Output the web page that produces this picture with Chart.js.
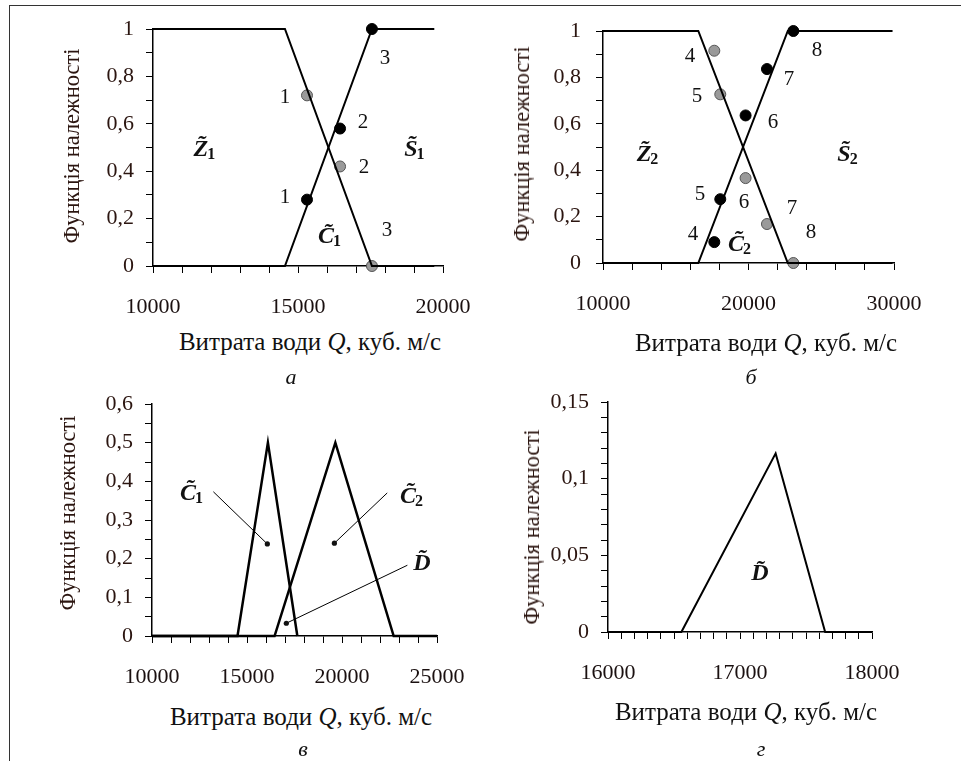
<!DOCTYPE html>
<html>
<head>
<meta charset="utf-8">
<script src="https://cdn.jsdelivr.net/npm/chart.js@4.4.0/dist/chart.umd.min.js"></script>
<style>
  body { margin: 0; background: #fff; }
  #page { position: relative; width: 961px; height: 761px; overflow: hidden; font-family: 'Liberation Serif', serif; color: #111; }
  #frame { position: absolute; left: 9px; top: 5px; right: -2px; bottom: -2px; border-top: 1px solid #333; border-left: 1px solid #333; }
  canvas { position: absolute; }
  .t { position: absolute; white-space: nowrap; transform: translate(-50%, -50%); font-size: 25px; font-family: 'Liberation Serif', serif; }
  .ty { transform: translate(-50%, -50%) rotate(-90deg); color: #2b1510; font-size: 22.5px; }
  .lt { font-style: italic; font-size: 22px; }
</style>
</head>
<body>
<div id="page">
  <div id="frame"></div>
  <canvas id="chartA"></canvas>
  <canvas id="chartB"></canvas>
  <canvas id="chartC"></canvas>
  <canvas id="chartD"></canvas>

  <div class="t ty" style="left:72px; top:146px;">Функція належності</div>
  <div class="t" style="left:310px; top:342px;">Витрата води <i>Q</i>, куб. м/с</div>
  <div class="t lt" style="left:291px; top:377px;">а</div>

  <div class="t ty" style="left:522px; top:144px;">Функція належності</div>
  <div class="t" style="left:766px; top:343px;">Витрата води <i>Q</i>, куб. м/с</div>
  <div class="t lt" style="left:751px; top:377px;">б</div>

  <div class="t ty" style="left:68px; top:513px;">Функція належності</div>
  <div class="t" style="left:301px; top:717px;">Витрата води <i>Q</i>, куб. м/с</div>
  <div class="t lt" style="left:303px; top:749px;">в</div>

  <div class="t ty" style="left:532px; top:527px;">Функція належності</div>
  <div class="t" style="left:746px; top:712px;">Витрата води <i>Q</i>, куб. м/с</div>
  <div class="t lt" style="left:761px; top:749px;">г</div>
</div>

<script>
/* ================================
   Data
================================ */
// panel а
const qA_lines = [10000, 14550, 17550, 19700];
const muA_Z1 = [1, 1, 0, 0];
const muA_S1 = [0, 0, 1, 1];
const qA_pts = [15310, 16450, 17550];
const muA_ptsZ = [0.72, 0.42, 0];
const muA_ptsS = [0.28, 0.58, 1.0];

// panel б
const qB_lines = [10000, 16550, 22700, 29900];
const muB_Z2 = [1, 1, 0, 0];
const muB_S2 = [0, 0, 1, 1];
const qB_pts = [17650, 18060, 19800, 21270, 23080];
const muB_ptsZ = [0.915, 0.727, 0.366, 0.168, 0];
const muB_ptsS = [0.09, 0.275, 0.636, 0.836, 1.0];

// panel в
const qC_C1 = [10000, 14500, 16100, 17650];
const muC_C1 = [0, 0, 0.5, 0];
const qC_C2 = [10000, 16450, 19650, 22720, 25000];
const muC_C2 = [0, 0, 0.5, 0, 0];

// panel г
const qD = [16000, 16556, 17270, 17645, 18000];
const muD = [0, 0, 0.1165, 0, 0];

/* ================================
   Helpers
================================ */
const SERIF = "'Liberation Serif', serif";
Chart.defaults.font.family = SERIF;
Chart.defaults.font.size = 22;
Chart.defaults.color = "#1a1a1a";

function xy(xs, ys) {
    return xs.map(function (x, i) {
        return { x: x, y: ys[i] };
    });
}

function lineSet(xs, ys, w) {
    return {
        data: xy(xs, ys),
        showLine: true,
        borderColor: "#000",
        borderWidth: w || 2,
        pointRadius: 0,
        clip: false,
    };
}

function dotSet(xs, ys, fill, edge) {
    return {
        data: xy(xs, ys),
        showLine: false,
        pointRadius: 5.5,
        pointBackgroundColor: fill,
        pointBorderColor: edge,
        pointBorderWidth: 1,
        clip: false,
    };
}

function decimal(v) {
    return String(v).replace(".", ",");
}

// labels hang outside the plot box, keep the box where it is
function noOverhang(s) {
    s.paddingLeft = 0;
    s.paddingRight = 0;
    s.paddingTop = 0;
    s.paddingBottom = 0;
}

// text labels / leaders in data units, drawn through the scales
const notesPlugin = {
    id: "notes",
    afterDatasetsDraw: function (chart, args, opts) {
        const ctx = chart.ctx;
        const sx = chart.scales.x;
        const sy = chart.scales.y;
        (opts.items || []).forEach(function (it) {
            const px = sx.getPixelForValue(it.x);
            const py = sy.getPixelForValue(it.y);
            ctx.save();
            ctx.fillStyle = "#111";
            ctx.strokeStyle = "#000";
            if (it.kind === "num") {
                ctx.font = "21px " + SERIF;
                ctx.textAlign = "center";
                ctx.textBaseline = "middle";
                ctx.fillText(it.text, px, py);
            } else if (it.kind === "name") {
                ctx.font = "bold italic 24px " + SERIF;
                ctx.textAlign = "left";
                ctx.textBaseline = "alphabetic";
                const w = ctx.measureText(it.text).width;
                ctx.font = "bold 16px " + SERIF;
                const ws = ctx.measureText(it.sub || "").width;
                const x0 = px - (w + ws) / 2;
                ctx.font = "bold italic 24px " + SERIF;
                ctx.fillText(it.text + "\u0303", x0, py + 8);
                if (it.sub) {
                    ctx.font = "bold 16px " + SERIF;
                    ctx.fillText(it.sub, x0 + w - 1, py + 11);
                }
            } else if (it.kind === "leader") {
                const qx = sx.getPixelForValue(it.x2);
                const qy = sy.getPixelForValue(it.y2);
                ctx.lineWidth = 1;
                ctx.beginPath();
                ctx.moveTo(px, py);
                ctx.lineTo(qx, qy);
                ctx.stroke();
                ctx.beginPath();
                ctx.arc(qx, qy, 2.6, 0, Math.PI * 2);
                ctx.fill();
            }
            ctx.restore();
        });
    },
};

/* ================================
   One panel = one chart
================================ */
function makePanel(id, area, xr, yr, datasets, notes) {
    const padL = 150, padT = 22, padR = 40, padB = 60;
    const cv = document.getElementById(id);
    const w = area.right - area.left + padL + padR;
    const h = area.bottom - area.top + padT + padB;
    cv.width = w;
    cv.height = h;
    cv.style.left = (area.left - padL) + "px";
    cv.style.top = (area.top - padT) + "px";
    cv.style.width = w + "px";
    cv.style.height = h + "px";

    new Chart(cv.getContext("2d"), {
        type: "scatter",
        data: { datasets: datasets },
        plugins: [notesPlugin],
        options: {
            responsive: false,
            animation: false,
            events: [],
            layout: { padding: { left: 0, top: padT, right: padR, bottom: 0 } },
            plugins: {
                legend: { display: false },
                tooltip: { enabled: false },
                notes: { items: notes },
            },
            scales: {
                x: {
                    type: "linear",
                    min: xr.min,
                    max: xr.max,
                    afterFit: function (s) {
                        s.height = padB;
                        noOverhang(s);
                    },
                    border: { display: true, color: "#000", width: 1.5 },
                    grid: { drawOnChartArea: false, drawTicks: true, tickLength: 7, color: "#000" },
                    ticks: {
                        stepSize: xr.step,
                        autoSkip: false,
                        maxRotation: 0,
                        padding: 21,
                        color: "#1a1010",
                        font: { family: SERIF, size: 22 },
                        callback: function (v) {
                            return Math.round(v) % xr.label === 0 ? String(Math.round(v)) : "";
                        },
                    },
                },
                y: {
                    type: "linear",
                    min: yr.min,
                    max: yr.max,
                    afterFit: function (s) {
                        s.width = padL;
                        noOverhang(s);
                    },
                    border: { display: true, color: "#000", width: 1.5 },
                    grid: { drawOnChartArea: false, drawTicks: true, tickLength: 7, color: "#000" },
                    ticks: {
                        stepSize: yr.step,
                        autoSkip: false,
                        padding: yr.pad,
                        color: "#2b1510",
                        font: { family: SERIF, size: 22 },
                        callback: function (v) {
                            const n = Math.round(v / yr.step);
                            if (n % yr.every !== 0) {
                                return "";
                            }
                            return decimal(Math.round(v * 1000) / 1000);
                        },
                    },
                },
            },
        },
    });
}

/* ================================
   Panel а
================================ */
makePanel("chartA",
    { left: 153, top: 29, right: 443, bottom: 266 },
    { min: 10000, max: 20000, step: 1000, label: 5000 },
    { min: 0, max: 1, step: 0.1, every: 2, pad: 12 },
    [
        lineSet(qA_lines, muA_Z1),
        lineSet(qA_lines, muA_S1),
        dotSet(qA_pts, muA_ptsZ, "#9a9a9a", "#555"),
        dotSet(qA_pts, muA_ptsS, "#000", "#000"),
    ],
    [
        { kind: "name", text: "Z", sub: "1", x: 11790, y: 0.50 },
        { kind: "name", text: "S", sub: "1", x: 19030, y: 0.50 },
        { kind: "name", text: "C", sub: "1", x: 16100, y: 0.13 },
        { kind: "num", text: "1", x: 14550, y: 0.713 },
        { kind: "num", text: "1", x: 14550, y: 0.29 },
        { kind: "num", text: "2", x: 17240, y: 0.607 },
        { kind: "num", text: "2", x: 17280, y: 0.417 },
        { kind: "num", text: "3", x: 18000, y: 0.874 },
        { kind: "num", text: "3", x: 18070, y: 0.151 },
    ]
);

/* ================================
   Panel б
================================ */
makePanel("chartB",
    { left: 603, top: 31, right: 894, bottom: 263 },
    { min: 10000, max: 30000, step: 2000, label: 10000 },
    { min: 0, max: 1, step: 0.1, every: 2, pad: 15 },
    [
        lineSet(qB_lines, muB_Z2),
        lineSet(qB_lines, muB_S2),
        dotSet(qB_pts, muB_ptsZ, "#9a9a9a", "#555"),
        dotSet(qB_pts, muB_ptsS, "#000", "#000"),
    ],
    [
        { kind: "name", text: "Z", sub: "2", x: 13090, y: 0.475 },
        { kind: "name", text: "S", sub: "2", x: 26840, y: 0.475 },
        { kind: "name", text: "C", sub: "2", x: 19420, y: 0.087 },
        { kind: "num", text: "4", x: 15980, y: 0.888 },
        { kind: "num", text: "5", x: 16460, y: 0.716 },
        { kind: "num", text: "6", x: 21680, y: 0.604 },
        { kind: "num", text: "7", x: 22780, y: 0.789 },
        { kind: "num", text: "8", x: 24710, y: 0.918 },
        { kind: "num", text: "5", x: 16670, y: 0.294 },
        { kind: "num", text: "6", x: 19690, y: 0.26 },
        { kind: "num", text: "7", x: 22990, y: 0.234 },
        { kind: "num", text: "8", x: 24300, y: 0.13 },
        { kind: "num", text: "4", x: 16190, y: 0.122 },
    ]
);

/* ================================
   Panel в
================================ */
makePanel("chartC",
    { left: 152, top: 404, right: 437, bottom: 636 },
    { min: 10000, max: 25000, step: 1000, label: 5000 },
    { min: 0, max: 0.6, step: 0.05, every: 2, pad: 12 },
    [
        lineSet(qC_C1, muC_C1, 2.5),
        lineSet(qC_C2, muC_C2, 2.5),
    ],
    [
        { kind: "name", text: "C", sub: "1", x: 12100, y: 0.373 },
        { kind: "name", text: "C", sub: "2", x: 23680, y: 0.365 },
        { kind: "name", text: "D", sub: "", x: 24210, y: 0.192 },
        { kind: "leader", x: 13230, y: 0.373, x2: 16070, y2: 0.238 },
        { kind: "leader", x: 22380, y: 0.37, x2: 19600, y2: 0.24 },
        { kind: "leader", x: 23440, y: 0.183, x2: 17070, y2: 0.033 },
    ]
);

/* ================================
   Panel г
================================ */
makePanel("chartD",
    { left: 608, top: 402, right: 872, bottom: 632 },
    { min: 16000, max: 18000, step: 100, label: 1000 },
    { min: 0, max: 0.15, step: 0.01, every: 5, pad: 12 },
    [
        lineSet(qD, muD, 2),
    ],
    [
        { kind: "name", text: "D", sub: "", x: 17150, y: 0.039 },
    ]
);
</script>
</body>
</html>
